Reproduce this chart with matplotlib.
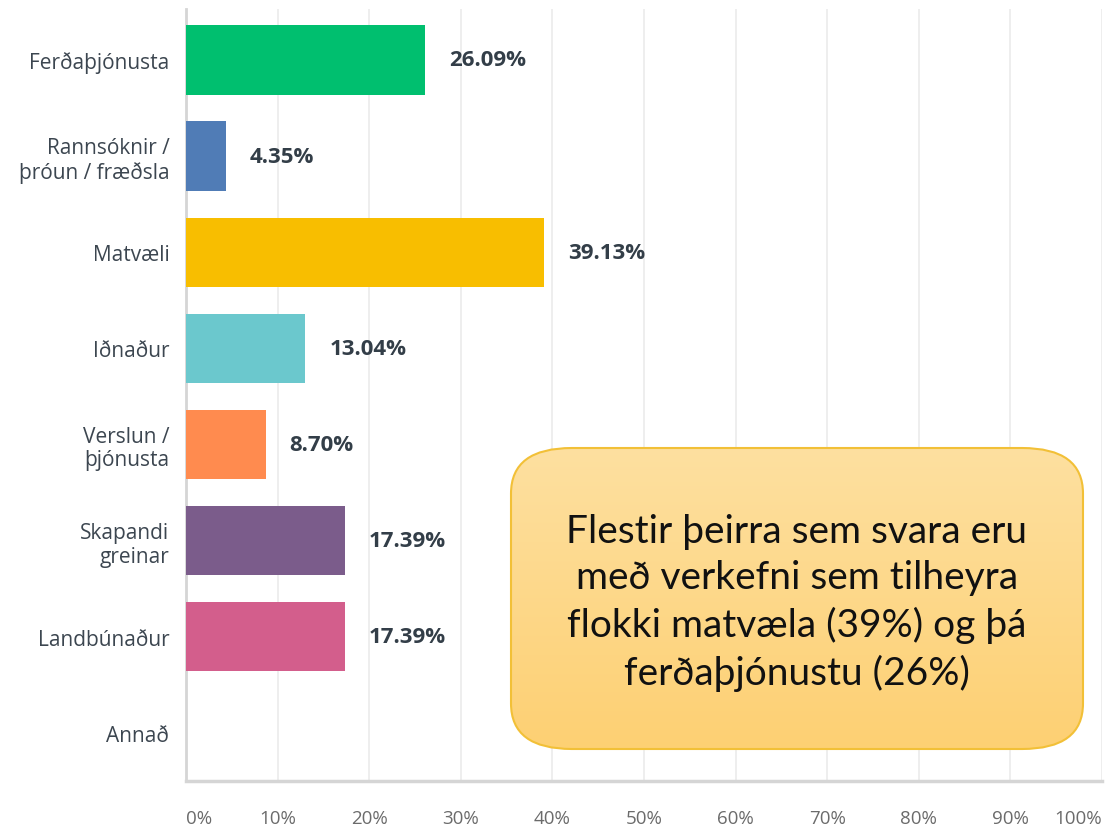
import numpy as np
import matplotlib
matplotlib.use("Agg")
from matplotlib import pyplot as plt
from matplotlib.patches import FancyBboxPatch

categories = ["Ferðaþjónusta", "Rannsóknir /\nþróun / fræðsla", "Matvæli", "Iðnaður",
              "Verslun /\nþjónusta", "Skapandi\ngreinar", "Landbúnaður", "Annað"]
values = [26.09, 4.35, 39.13, 13.04, 8.70, 17.39, 17.39, 0.0]
value_labels = ["26.09%", "4.35%", "39.13%", "13.04%", "8.70%", "17.39%", "17.39%", ""]
colors = ["#00bf6f", "#507cb6", "#f8be00", "#6bc8cd", "#ff8b4f", "#7b5c8b", "#d35e8c", "#cccccc"]
ticks = list(range(0, 101, 10))
tick_labels = [f"{t}%" for t in ticks]
note = "Flestir þeirra sem svara eru\nmeð verkefni sem tilheyra\nflokki matvæla (39%) og þá\nferðaþjónustu (26%)"

plt.rcParams['font.family'] = ['Open Sans', 'DejaVu Sans']

fig = plt.figure(figsize=(11.07, 8.28), dpi=100)
ax = fig.add_axes([186 / 1107, 1 - 782 / 828, (1102 - 186) / 1107, (782 - 10) / 828])

y = np.arange(len(categories))
ax.barh(y, values, height=0.72, color=colors, zorder=3)
for yi, v, lab in zip(y, values, value_labels):
    if lab:
        ax.text(v + 2.6, yi, lab, va="center", ha="left", fontsize=16,
                fontweight="bold", color="#333e48", zorder=4)

ax.set_xlim(0, 100)
ax.set_ylim(len(categories) - 0.5, -0.53)
ax.set_yticks(y)
ax.set_yticklabels(categories, fontsize=15, color="#3c4650", linespacing=1.15)
ax.tick_params(axis="y", length=0, pad=12)

ax.set_xticks(ticks)
ax.set_xticklabels(tick_labels, fontsize=13.5, color="#6b6b6b")
ax.tick_params(axis="x", length=0, pad=20)
xl = ax.get_xticklabels()
xl[0].set_horizontalalignment("left")
xl[-1].set_horizontalalignment("right")

ax.grid(axis="x", color="#ebebeb", linewidth=1.2, zorder=0)
for s in ["top", "right"]:
    ax.spines[s].set_visible(False)
ax.spines["left"].set_color("#d5d5d5")
ax.spines["left"].set_linewidth(2)
ax.spines["bottom"].set_color("#d5d5d5")
ax.spines["bottom"].set_linewidth(2.5)

# callout box with vertical gradient
W, H = 1107, 828
bx0, by0, bx1, by1 = 511, 449, 1083, 750
box = FancyBboxPatch((bx0 / W, 1 - by1 / H), (bx1 - bx0) / W, (by1 - by0) / H,
                     boxstyle="round,pad=0,rounding_size=0.055",
                     transform=fig.transFigure, facecolor="none",
                     edgecolor="#f2c037", linewidth=1.5, zorder=10)
fig.patches.append(box)
grad = np.linspace(0, 1, 256).reshape(-1, 1)
top = np.array([254, 224, 160]) / 255
bot = np.array([253, 208, 115]) / 255
img = top + (bot - top) * grad[:, :, None]
gax = fig.add_axes([0, 0, 1, 1], zorder=5)
gax.set_axis_off()
gax.set_xlim(0, 1)
gax.set_ylim(0, 1)
im = gax.imshow(img, extent=(bx0 / W, bx1 / W, 1 - by1 / H, 1 - by0 / H), aspect="auto", zorder=1)
clip = FancyBboxPatch((bx0 / W, 1 - by1 / H), (bx1 - bx0) / W, (by1 - by0) / H,
                      boxstyle="round,pad=0,rounding_size=0.055",
                      transform=fig.transFigure, facecolor="none", edgecolor="none")
gax.add_patch(clip)
im.set_clip_path(clip)
gax.text((bx0 + bx1) / 2 / W, 1 - 603 / H, note, ha="center", va="center",
         fontsize=28, color="#111111", linespacing=1.36, zorder=2,
         family=["Lato", "DejaVu Sans"])

fig.savefig("out.png", dpi=100)
